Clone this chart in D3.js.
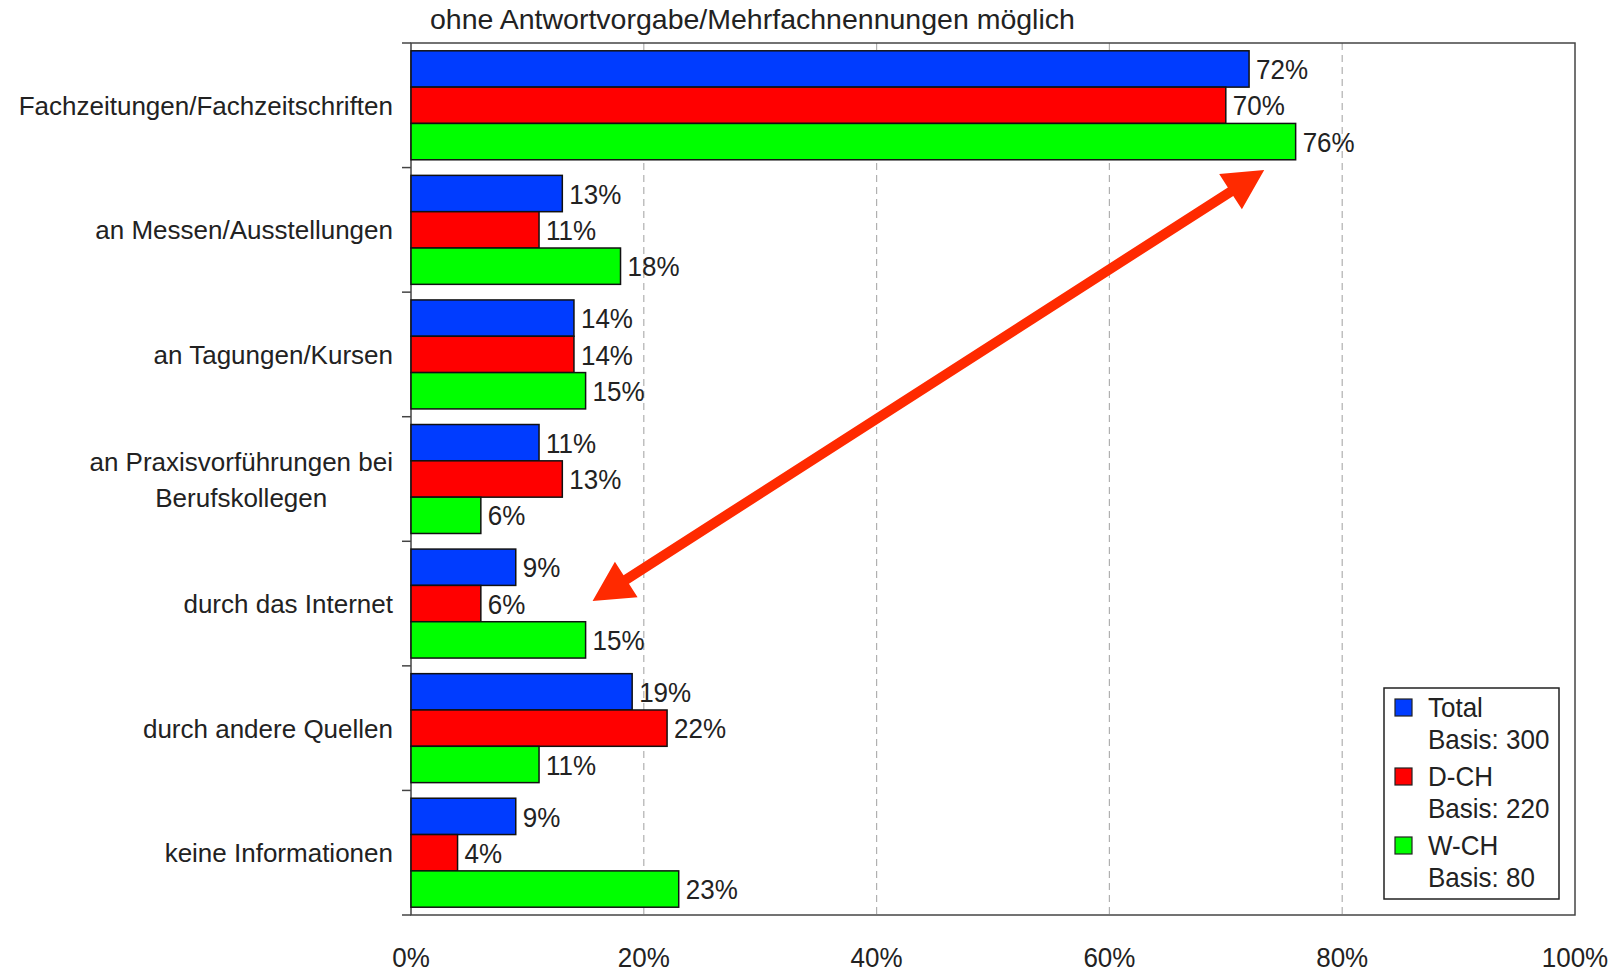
<!DOCTYPE html>
<html><head><meta charset="utf-8">
<script src="https://cdn.jsdelivr.net/npm/d3@7"></script>
<style>
html,body{margin:0;padding:0;background:#fff;}
svg{display:block;font-family:"Liberation Sans",Arial,Helvetica,sans-serif;}
</style></head>
<body>
<svg id="chart" width="1617" height="973"></svg>
<script>
const title = "ohne Antwortvorgabe/Mehrfachnennungen möglich";
const categories = [
  ["Fachzeitungen/Fachzeitschriften"],
  ["an Messen/Ausstellungen"],
  ["an Tagungen/Kursen"],
  ["an Praxisvorführungen bei","Berufskollegen"],
  ["durch das Internet"],
  ["durch andere Quellen"],
  ["keine Informationen"]
];
const seriesNames = ["Total","D-CH","W-CH"];
const seriesBasis = ["Basis: 300","Basis: 220","Basis: 80"];
const seriesColors = ["#003cff","#ff0000","#00ff00"];
const totalValues = [72,13,14,11,9,19,9];
const dchValues   = [70,11,14,13,6,22,4];
const wchValues   = [76,18,15,6,15,11,23];
const xTicks = [0,20,40,60,80,100];
// arrow annotation in data terms: value (%) and category index + fraction of band
const arrowFrom = {value:15.6, cat:4, frac:0.48};
const arrowTo   = {value:73.3, cat:0, frac:1.02};

const catKeys = categories.map(c=>c.join(" "));
const series = [totalValues,dchValues,wchValues];

const svg = d3.select("#chart");
const L=411, R=1575, T=43, B=915;
const x = d3.scaleLinear().domain([0,100]).range([L,R]);
const y = d3.scaleBand().domain(catKeys).range([T,B]).padding(0);
const sub = d3.scaleBand().domain(seriesNames).range([7.8, y.bandwidth()-7.8]).padding(0);
const VS = 1.08; // slight vertical stretch of the original lettering

// gridlines
svg.append("g").selectAll("line").data(xTicks.filter(t=>t>0&&t<100)).join("line")
  .attr("x1",d=>x(d)).attr("x2",d=>x(d)).attr("y1",T).attr("y2",B)
  .attr("stroke","#b0b0b0").attr("stroke-width",1.2).attr("stroke-dasharray","7,5");

// frame
svg.append("rect").attr("x",L).attr("y",T).attr("width",R-L).attr("height",B-T)
  .attr("fill","none").attr("stroke","#444").attr("stroke-width",1.5);
const bounds = catKeys.map(k=>y(k)).concat([B]);
svg.append("g").selectAll("line").data(bounds).join("line")
  .attr("x1",L-9).attr("x2",L).attr("y1",d=>d).attr("y2",d=>d)
  .attr("stroke","#444").attr("stroke-width",1.5);

// bars
const bars = [];
catKeys.forEach((k,i)=>series.forEach((s,j)=>bars.push({k,v:s[i],name:seriesNames[j],color:seriesColors[j]})));
const g = svg.append("g");
g.selectAll("rect").data(bars).join("rect")
  .attr("x",x(0)).attr("y",d=>y(d.k)+sub(d.name))
  .attr("width",d=>x(d.v)-x(0)).attr("height",sub.bandwidth())
  .attr("fill",d=>d.color).attr("stroke","#111").attr("stroke-width",1.5);
g.selectAll("text").data(bars).join("text")
  .attr("transform",d=>`translate(${x(d.v)+7},${y(d.k)+sub(d.name)+sub.bandwidth()/2}) scale(1,${VS})`)
  .attr("dy","0.36em").attr("font-size",26).attr("fill","#222")
  .text(d=>d.v+"%");

// category labels
const cl = svg.append("g").selectAll("text").data(categories).join("text")
  .attr("font-size",26).attr("fill","#222").attr("text-anchor","end")
  .attr("transform",(d,i)=>`translate(393,${y(catKeys[i])+y.bandwidth()/2})`);
cl.each(function(d){
  const t=d3.select(this);
  if(d.length===1){ t.append("tspan").attr("x",0).attr("dy","0.36em").text(d[0]); }
  else{
    const t1=t.append("tspan").attr("x",0).attr("y",-17).attr("dy","0.36em").text(d[0]);
    const w=t1.node().getComputedTextLength();
    t.append("tspan").attr("x",-w/2).attr("y",19).attr("dy","0.36em").attr("text-anchor","middle").text(d[1]);
  }
});

// x axis labels
svg.append("g").selectAll("text").data(xTicks).join("text")
  .attr("transform",d=>`translate(${x(d)},967) scale(1,${VS})`).attr("text-anchor","middle")
  .attr("font-size",26).attr("fill","#222").text(d=>d+"%");

// title
svg.append("text").attr("x",430).attr("y",29).attr("font-size",28.5).attr("fill","#222").text(title);

// legend
const lg = svg.append("g");
lg.append("rect").attr("x",1384).attr("y",688).attr("width",175).attr("height",211)
  .attr("fill","#fff").attr("stroke","#222").attr("stroke-width",1.5);
seriesNames.forEach((n,i)=>{
  const yy = 699 + i*69;
  lg.append("rect").attr("x",1395).attr("y",yy).attr("width",17).attr("height",17)
    .attr("fill",seriesColors[i]).attr("stroke","#222").attr("stroke-width",1.2);
  lg.append("text").attr("transform",`translate(1428,${yy+18}) scale(1,${VS})`).attr("font-size",26).attr("fill","#222").text(n);
  lg.append("text").attr("transform",`translate(1428,${yy+50}) scale(1,${VS})`).attr("font-size",26).attr("fill","#222").text(seriesBasis[i]);
});

// arrow
function pt(a){ return [x(a.value), y(catKeys[a.cat]) + a.frac*y.bandwidth()]; }
const p0=pt(arrowFrom), p1=pt(arrowTo);
const dx=p1[0]-p0[0], dy=p1[1]-p0[1], len=Math.hypot(dx,dy);
const ux=dx/len, uy=dy/len, nx=-uy, ny=ux;
const hl=40, hw=21, sw=5;
const P=(p,a,b)=>[p[0]+ux*a+nx*b, p[1]+uy*a+ny*b];
const poly=[
  p0, P(p0,hl,hw), P(p0,hl,sw), P(p1,-hl,sw), P(p1,-hl,hw), p1,
  P(p1,-hl,-hw), P(p1,-hl,-sw), P(p0,hl,-sw), P(p0,hl,-hw)
];
svg.append("path").attr("d",d3.line()(poly)+"Z").attr("fill","#ff2a00");
</script>
</body></html>
